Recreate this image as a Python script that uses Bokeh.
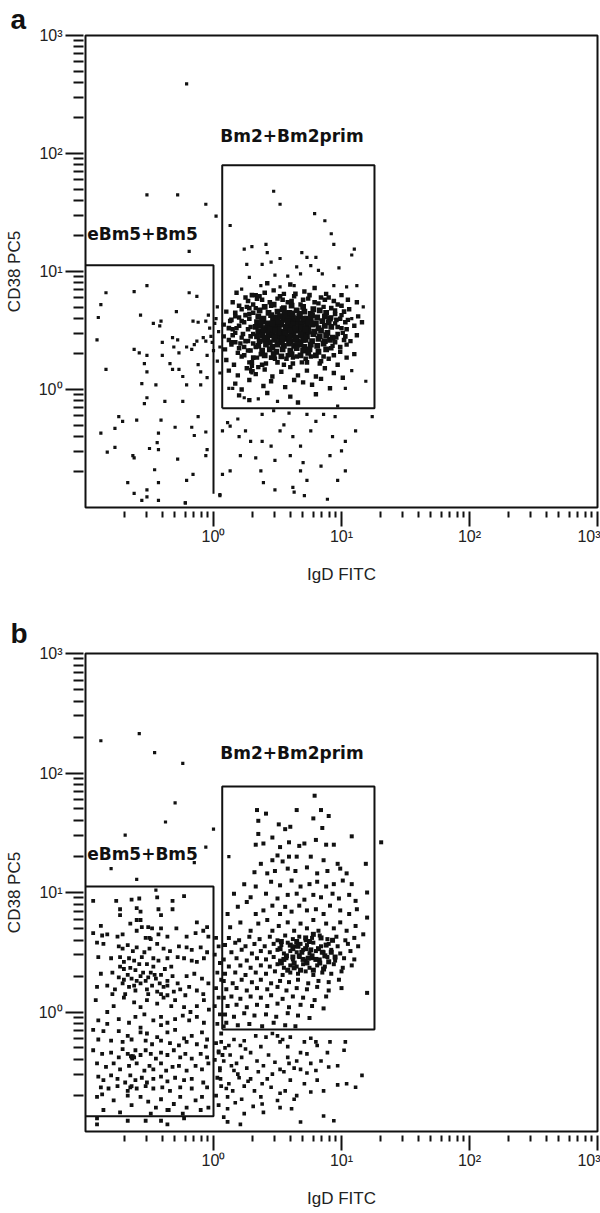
from bokeh.plotting import figure
from bokeh.models import Range1d, FixedTicker, Label, Title
from bokeh.layouts import column
from bokeh.embed import file_html
from bokeh.resources import INLINE

# ---------------- data (stored as log10 decades: (IgD, CD38)) ----------------
A_LEFT = [(-0.84,0.82),(-0.62,0.83),(-0.52,0.88),(-0.88,0.72),(-0.90,0.61),(-0.57,0.63),(-0.47,0.56),(-0.42,0.54),
 (-0.41,0.58),(-0.29,0.66),(-0.19,0.82),(-0.13,0.79),(-0.16,0.58),(-0.12,0.57),(-0.06,0.58),(-0.91,0.42),(-0.62,0.34),
 (-0.58,0.31),(-0.52,0.29),(-0.40,0.40),(-0.40,0.29),(-0.32,0.44),(-0.28,0.42),(-0.31,0.36),(-0.27,0.31),(-0.21,0.36),
 (-0.17,0.34),(-0.15,0.38),(-0.13,0.41),(-0.08,0.44),(-0.06,0.41),(-0.05,0.29),(-0.84,0.17),(-0.54,0.22),(-0.52,0.15),
 (-0.34,0.22),(-0.32,0.17),(-0.27,0.17),(-0.24,0.11),(-0.21,0.04),(-0.12,0.21),(-0.10,0.15),(-0.10,0.04),(-0.05,0.10),
 (-0.56,0.05),(-0.45,0.04),(-0.52,-0.07),(-0.54,-0.12),(-0.38,-0.10),(-0.24,-0.10),(-0.74,-0.23),(-0.71,-0.27),
 (-0.60,-0.26),(-0.41,-0.26),(-0.77,-0.33),(-0.88,-0.37),(-0.30,-0.32),(-0.17,-0.32),(-0.12,-0.23),(-0.15,-0.39),
 (-0.06,-0.36),(-0.43,-0.37),(-0.77,-0.49),(-0.83,-0.53),(-0.63,-0.56),(-0.62,-0.58),(-0.50,-0.50),(-0.44,-0.45),
 (-0.43,-0.51),(-0.05,-0.51),(-0.06,-0.56),(-0.28,-0.59),(-0.46,-0.68),(-0.16,-0.72),(-0.67,-0.79),(-0.43,-0.79),
 (-0.21,-0.77),(-0.52,-0.85),(-0.62,-0.88),(-0.52,-0.91),(-0.56,-0.94),(-0.43,-0.94),(-0.22,-0.96),(0.05,-0.89),
 (-0.19,1.17)]
A_BETWEEN = [(0.03,0.70),(0.02,0.60),(0.04,0.49),(0.05,0.36),(0.03,0.24),(0.05,0.14),(0.07,-0.35),(0.11,-0.28),
 (0.07,-0.72),(-0.03,0.52),(-0.02,0.45),(-0.04,0.63),(0.00,0.33),(-0.01,0.40),(0.01,0.56)]
A_UPPER = [(0.47,1.68),(0.52,1.57),(0.79,1.49),(0.87,1.43),(0.13,1.39),(0.92,1.32),(0.94,1.23),(0.24,1.19),(0.30,1.21),
 (1.10,1.19),(0.41,1.23),(0.69,1.16),(0.42,1.16),(0.73,1.12),(0.80,1.12),(0.52,1.11),(1.08,1.14),(-0.06,1.57),
 (0.02,1.47),(0.26,1.06),(0.38,1.06),(0.45,1.08),(0.65,1.04),(0.76,1.05),(0.82,1.01),(0.98,1.03),(0.28,0.95),
 (0.48,0.97),(0.58,0.96),(0.68,0.98),(0.85,0.98),(0.22,0.85),(0.37,0.88),(0.52,0.87),(0.63,0.88),(0.94,0.88),
 (1.04,0.87),(1.12,0.88),(1.17,0.70),(1.08,0.60)]
A_LOWER = [(1.19,0.07),(1.08,0.16),(1.03,0.01),(0.97,-0.14),(0.12,0.01),(0.15,0.01),(0.24,-0.07),(0.35,-0.08),
 (0.50,-0.10),(0.29,0.15),(0.30,0.14),(0.29,0.17),(0.31,0.16)]
A_BELOW = [(0.38,-0.21),(0.73,-0.21),(0.86,-0.21),(0.95,-0.23),(1.24,-0.23),(0.19,-0.25),(0.47,-0.18),(0.59,-0.20),
 (0.39,-0.79),(0.48,-0.85),(0.62,-0.83),(0.63,-0.87),(0.71,-0.90),(0.89,-0.93),(0.05,-0.90),(-0.22,-0.96),
 (0.73,-0.77),(0.97,-0.77),(0.13,-0.31),(0.25,-0.35),(0.38,-0.44),(0.52,-0.35),(0.68,-0.48),(0.80,-0.27),
 (0.91,-0.56),(1.03,-0.44),(1.11,-0.35),(0.21,-0.56),(0.48,-0.60),(0.68,-0.69),(0.84,-0.65),(1.03,-0.69),
 (0.37,-0.69),(0.60,-0.56),(0.13,-0.69),(0.29,-0.44),(0.76,-0.35),(0.55,-0.30),(0.93,-0.40),(0.33,-0.58),
 (0.70,-0.62),(1.00,-0.52),(0.45,-0.48),(0.20,-0.40),(0.62,-0.40)]
A_RING = [(0.18,0.82),(0.33,0.80),(0.47,0.84),(0.55,0.81),(0.71,0.83),(0.79,0.86),(0.88,0.81),(1.00,0.80),(0.60,0.89),
 (0.42,0.90),(0.15,0.74),(0.25,0.78),(0.31,0.72),(0.38,0.76),(0.45,0.71),(0.50,0.77),(0.58,0.74),(0.63,0.79),
 (0.68,0.72),(0.74,0.77),(0.82,0.73),(0.90,0.78),(0.97,0.72),(1.05,0.76),(1.12,0.74),(0.36,0.79),(0.86,0.70),
 (0.10,0.66),(0.17,0.62),(0.22,0.68),(0.28,0.64),(0.33,0.69),(0.95,0.67),(1.00,0.63),(1.06,0.68),(1.13,0.62),
 (0.20,0.61),(0.26,0.70),(0.92,0.61),(0.08,0.55),(0.13,0.58),(0.18,0.52),(0.24,0.57),(0.29,0.53),(0.95,0.56),
 (1.00,0.52),(1.05,0.59),(1.10,0.54),(1.16,0.57),(0.15,0.51),(0.99,0.60),(0.08,0.45),(0.12,0.42),(0.17,0.48),
 (0.22,0.44),(0.27,0.41),(0.31,0.47),(0.96,0.44),(1.01,0.48),(1.07,0.41),(1.12,0.46),(0.14,0.40),(0.09,0.34),
 (0.14,0.38),(0.19,0.31),(0.24,0.36),(0.29,0.33),(0.93,0.37),(0.99,0.32),(1.04,0.38),(1.10,0.30),(0.21,0.39),
 (0.10,0.25),(0.16,0.21),(0.22,0.28),(0.28,0.23),(0.34,0.27),(0.41,0.22),(0.48,0.26),(0.55,0.21),(0.62,0.27),
 (0.69,0.23),(0.76,0.28),(0.83,0.22),(0.90,0.26),(0.97,0.21),(1.04,0.27),(0.30,0.20),(0.58,0.29),(0.12,0.16),
 (0.19,0.12),(0.26,0.18),(0.33,0.13),(0.40,0.17),(0.46,0.11),(0.53,0.15),(0.60,0.19),(0.66,0.12),(0.73,0.16),
 (0.80,0.11),(0.87,0.18),(0.94,0.14),(1.01,0.10),(0.35,0.19),(0.17,0.05),(0.28,0.08),(0.39,0.03),(0.45,0.07),
 (0.56,0.02),(0.63,0.08),(0.77,0.04),(0.84,0.09),(0.91,0.01),(0.22,0.00),(0.70,0.06),(0.20,-0.05),(0.42,-0.03),
 (0.60,-0.06),(0.80,-0.04),(0.28,-0.09),(0.66,-0.11)]
A_HALO = [(0.30,0.80),(0.40,0.82),(0.52,0.79),(0.64,0.81),(0.75,0.80),(0.84,0.78),
 (0.27,0.75),(0.34,0.77),(0.44,0.74),(0.54,0.76),(0.61,0.75),(0.70,0.76),(0.79,0.74),(0.87,0.76),(0.94,0.75),
 (0.20,0.71),(0.28,0.69),(0.92,0.69),(1.00,0.71),(0.17,0.65),(0.25,0.63),(0.31,0.65),(0.95,0.64),(1.02,0.66),
 (0.14,0.59),(0.22,0.58),(0.28,0.60),(0.96,0.59),(1.03,0.57),(0.12,0.52),(0.20,0.54),(0.27,0.51),(0.97,0.53),
 (1.04,0.51),(0.15,0.46),(0.23,0.47),(0.29,0.45),(0.97,0.47),(1.03,0.45),(0.17,0.40),(0.25,0.41),(0.31,0.39),
 (0.95,0.40),(1.02,0.42),(0.20,0.35),(0.27,0.33),(0.33,0.36),(0.92,0.35),(0.99,0.36),
 (0.24,0.29),(0.31,0.27),(0.37,0.30),(0.45,0.27),(0.57,0.26),(0.65,0.28),(0.72,0.26),(0.86,0.28),(0.94,0.29),
 (0.30,0.23),(0.38,0.21),(0.50,0.23),(0.62,0.22),(0.73,0.23),(0.84,0.24)]
A_CORE = [(0.40,0.70),(0.47,0.72),(0.55,0.69),(0.61,0.71),(0.70,0.70),(0.78,0.68),
 (0.36,0.67),(0.43,0.65),(0.50,0.66),(0.54,0.68),(0.59,0.65),(0.65,0.67),(0.71,0.66),(0.76,0.64),(0.83,0.67),(0.88,0.65),
 (0.35,0.62),(0.39,0.60),(0.45,0.63),(0.49,0.61),(0.53,0.62),(0.58,0.63),(0.62,0.61),(0.67,0.62),(0.73,0.60),(0.77,0.63),
 (0.81,0.61),(0.87,0.62),(0.91,0.60),
 (0.34,0.57),(0.38,0.58),(0.42,0.56),(0.47,0.58),(0.51,0.57),(0.55,0.59),(0.60,0.57),(0.64,0.58),(0.68,0.56),(0.72,0.58),
 (0.76,0.59),(0.80,0.56),(0.85,0.58),(0.90,0.57),
 (0.33,0.53),(0.37,0.54),(0.41,0.52),(0.45,0.54),(0.49,0.53),(0.53,0.55),(0.57,0.53),(0.61,0.54),(0.65,0.52),(0.69,0.54),
 (0.73,0.53),(0.77,0.55),(0.82,0.52),(0.87,0.54),(0.92,0.53),
 (0.35,0.49),(0.39,0.50),(0.43,0.48),(0.47,0.50),(0.51,0.51),(0.55,0.49),(0.58,0.50),(0.62,0.48),(0.66,0.50),(0.70,0.49),
 (0.74,0.51),(0.79,0.49),(0.84,0.50),(0.89,0.48),
 (0.34,0.45),(0.38,0.46),(0.42,0.44),(0.46,0.46),(0.50,0.45),(0.54,0.47),(0.57,0.45),(0.61,0.46),(0.65,0.44),(0.69,0.46),
 (0.73,0.45),(0.78,0.47),(0.83,0.45),(0.88,0.46),(0.93,0.44),
 (0.36,0.41),(0.40,0.42),(0.44,0.40),(0.48,0.42),(0.52,0.41),(0.56,0.43),(0.60,0.41),(0.64,0.42),(0.68,0.40),(0.72,0.42),
 (0.77,0.41),(0.82,0.43),(0.87,0.41),(0.91,0.42),
 (0.35,0.37),(0.41,0.38),(0.46,0.36),(0.50,0.38),(0.55,0.37),(0.59,0.39),(0.63,0.37),(0.67,0.38),(0.71,0.36),(0.76,0.38),
 (0.81,0.37),(0.86,0.39),
 (0.38,0.33),(0.44,0.34),(0.49,0.32),(0.54,0.34),(0.60,0.33),(0.65,0.35),(0.70,0.33),(0.75,0.34),(0.82,0.32),(0.88,0.34),
 (0.40,0.29),(0.47,0.30),(0.53,0.28),(0.61,0.30),(0.68,0.29),(0.74,0.31),(0.80,0.29),
 (0.465,0.60),(0.525,0.56),(0.585,0.605),(0.645,0.565),(0.705,0.60),(0.445,0.52),(0.505,0.48),(0.565,0.52),(0.625,0.485),
 (0.685,0.525),(0.745,0.49),(0.475,0.44),(0.535,0.40),(0.595,0.445),(0.655,0.405),(0.715,0.44),(0.775,0.555),(0.555,0.64),
 (0.615,0.645),(0.675,0.64),(0.50,0.575),(0.56,0.475),(0.62,0.55),(0.68,0.47),(0.74,0.57),(0.48,0.50),(0.60,0.50),
 (0.66,0.60),(0.54,0.43),(0.70,0.42),(0.52,0.62),(0.64,0.43),(0.72,0.51),(0.46,0.56),(0.58,0.58),(0.64,0.52)]
A_OUTLIERS = [(-0.21,2.59),(-0.52,1.65),(-0.28,1.65)]

B_LEFT = [(-0.94,0.93),(-0.76,0.93),(-0.73,0.86),(-0.64,0.94),(-0.58,0.95),(-0.44,0.96),(-0.32,0.93),(-0.23,0.97),
 (-0.60,0.87),(-0.57,0.84),(-0.43,0.86),(-0.41,0.81),(-0.60,0.77),(-0.32,0.86),(-0.73,0.81),(-0.13,0.75),(-0.57,0.77),
 (-0.88,0.72),(-0.65,0.74),(-0.56,0.71),(-0.51,0.71),(-0.48,0.70),(-0.41,0.70),(-0.29,0.70),(-0.05,0.71),(-0.94,0.66),
 (-0.87,0.64),(-0.83,0.65),(-0.75,0.63),(-0.71,0.65),(-0.60,0.68),(-0.49,0.61),(-0.43,0.65),(-0.36,0.63),(-0.21,0.63),
 (-0.14,0.66),(-0.08,0.68),(-0.04,0.63),(-0.53,0.62),(-0.50,0.62),
 (-0.91,0.58),(-0.86,0.57),(-0.74,0.55),(-0.71,0.53),(-0.67,0.56),(-0.63,0.51),(-0.60,0.54),(-0.54,0.50),(-0.50,0.53),
 (-0.44,0.57),(-0.39,0.53),(-0.34,0.51),(-0.27,0.55),(-0.21,0.54),(-0.17,0.52),(-0.10,0.54),(-0.05,0.50),(-0.90,0.46),
 (-0.80,0.45),(-0.73,0.46),(-0.66,0.45),(-0.62,0.43),(-0.56,0.46),(-0.52,0.40),(-0.47,0.45),(-0.43,0.43),(-0.36,0.45),
 (-0.28,0.46),(-0.23,0.45),(-0.17,0.43),(-0.13,0.42),(-0.075,0.45),(-0.73,0.38),(-0.70,0.42),
 (-0.88,0.32),(-0.79,0.33),(-0.74,0.29),(-0.70,0.36),(-0.67,0.31),(-0.64,0.28),(-0.61,0.35),(-0.57,0.30),(-0.53,0.26),
 (-0.49,0.33),(-0.45,0.28),(-0.41,0.31),(-0.36,0.26),(-0.32,0.30),(-0.28,0.24),(-0.21,0.30),(-0.15,0.32),(-0.09,0.28),
 (-0.04,0.24),(-0.91,0.21),(-0.83,0.22),(-0.77,0.19),(-0.71,0.24),(-0.66,0.21),(-0.61,0.18),(-0.57,0.24),(-0.52,0.19),
 (-0.48,0.22),(-0.44,0.17),(-0.39,0.21),(-0.36,0.22),(-0.31,0.17),(-0.26,0.19),(-0.19,0.21),(-0.13,0.18),(-0.08,0.15),
 (-0.79,0.15),(-0.69,0.15),(-0.51,0.15),(-0.41,0.15),(-0.22,0.14),(-0.36,0.14),
 (-0.60,0.26),(-0.55,0.33),(-0.47,0.38),(-0.42,0.24),(-0.65,0.37),(-0.38,0.36),(-0.51,0.29),(-0.58,0.40),(-0.46,0.31),
 (-0.62,0.22),(-0.33,0.38),(-0.70,0.27),
 (-0.92,0.10),(-0.83,0.00),(-0.78,0.05),(-0.70,0.12),(-0.62,0.08),(-0.57,0.04),(-0.52,0.10),(-0.44,0.07),(-0.39,0.12),
 (-0.33,0.05),(-0.30,0.10),(-0.23,0.04),(-0.18,0.00),(-0.13,0.05),(-0.075,0.10),(-0.036,0.02),(-0.90,-0.07),(-0.83,-0.10),
 (-0.74,-0.06),(-0.66,-0.09),(-0.61,-0.04),(-0.54,-0.02),(-0.47,-0.07),(-0.41,-0.04),(-0.36,-0.09),(-0.30,-0.06),
 (-0.24,-0.03),(-0.19,-0.07),(-0.13,-0.04),(-0.075,-0.09),(-0.41,-0.11),(-0.57,-0.13),
 (-0.94,-0.15),(-0.86,-0.16),(-0.74,-0.16),(-0.67,-0.20),(-0.57,-0.17),(-0.52,-0.18),(-0.44,-0.21),(-0.36,-0.17),
 (-0.30,-0.15),(-0.23,-0.22),(-0.17,-0.20),(-0.09,-0.17),(-0.05,-0.23),(-0.90,-0.23),(-0.80,-0.24),(-0.71,-0.25),
 (-0.64,-0.23),(-0.53,-0.24),(-0.48,-0.27),(-0.41,-0.24),(-0.34,-0.26),(-0.27,-0.28),(-0.21,-0.25),(-0.13,-0.27),
 (-0.06,-0.29),
 (-0.94,-0.32),(-0.87,-0.35),(-0.80,-0.34),(-0.74,-0.38),(-0.71,-0.31),(-0.67,-0.35),(-0.64,-0.38),(-0.61,-0.32),
 (-0.57,-0.36),(-0.53,-0.32),(-0.49,-0.35),(-0.45,-0.39),(-0.41,-0.34),(-0.36,-0.36),(-0.31,-0.32),(-0.26,-0.38),
 (-0.22,-0.35),(-0.17,-0.39),(-0.10,-0.35),(-0.05,-0.38),
 (-0.91,-0.43),(-0.84,-0.46),(-0.78,-0.43),(-0.73,-0.48),(-0.66,-0.45),(-0.60,-0.43),(-0.54,-0.49),(-0.50,-0.45),
 (-0.47,-0.48),(-0.41,-0.43),(-0.37,-0.49),(-0.32,-0.46),(-0.27,-0.45),(-0.21,-0.49),(-0.14,-0.45),(-0.09,-0.48),
 (-0.04,-0.43),
 (-0.90,-0.54),(-0.86,-0.57),(-0.80,-0.53),(-0.75,-0.56),(-0.69,-0.59),(-0.65,-0.53),(-0.61,-0.57),(-0.56,-0.55),
 (-0.52,-0.59),(-0.47,-0.56),(-0.41,-0.54),(-0.36,-0.58),(-0.30,-0.55),(-0.23,-0.57),(-0.17,-0.56),(-0.08,-0.59),
 (-0.88,-0.63),(-0.82,-0.64),(-0.75,-0.62),(-0.67,-0.66),(-0.60,-0.64),(-0.53,-0.62),(-0.47,-0.64),(-0.40,-0.63),
 (-0.34,-0.66),(-0.26,-0.63),(-0.17,-0.64),(-0.05,-0.63),
 (-0.63,-0.37),(-0.635,-0.39),(-0.62,-0.38),(-0.65,-0.63),(-0.64,-0.62),(-0.645,-0.37),
 (-0.91,-0.71),(-0.87,-0.69),(-0.78,-0.74),(-0.67,-0.70),(-0.64,-0.78),(-0.57,-0.71),(-0.51,-0.75),(-0.45,-0.80),
 (-0.41,-0.73),(-0.35,-0.82),(-0.31,-0.77),(-0.26,-0.71),(-0.21,-0.80),(-0.14,-0.74),(-0.09,-0.71),(-0.04,-0.80),
 (-0.86,-0.82),(-0.73,-0.84),(-0.49,-0.85),(-0.36,-0.82),(-0.10,-0.82),(-0.24,-0.85),
 (-0.91,-0.89),(-0.91,-0.94),(-0.67,-0.91),(-0.53,-0.91),(-0.41,-0.91),(-0.36,-0.94),(-0.23,-0.89)]
B_BETWEEN = [(0.02,0.62),(0.04,0.55),(0.01,0.48),(0.05,0.41),(0.03,0.33),(0.06,0.27),(0.02,0.20),(0.04,0.12),
 (0.01,0.05),(0.05,-0.02),(0.03,-0.10),(0.06,-0.18),(0.02,-0.26),(0.04,-0.33),(0.01,-0.40),(0.05,-0.47),(0.03,-0.55),
 (0.06,-0.62),(0.02,-0.70),(0.04,-0.78),(0.07,-0.36),(0.08,-0.12),(0.11,-0.92)]
B_BELOW = [(0.16,-0.23),(0.24,-0.24),(0.33,-0.20),(0.41,-0.21),(0.46,-0.18),(0.50,-0.20),(0.54,-0.23),(0.52,-0.25),
 (0.60,-0.21),(0.71,-0.25),(0.76,-0.22),(0.80,-0.25),(0.81,-0.28),(0.91,-0.25),(1.03,-0.25),(0.12,-0.28),(0.21,-0.28),
 (0.37,-0.29),(0.58,-0.29),(0.68,-0.34),(0.89,-0.34),(1.02,-0.32),
 (0.04,-0.34),(0.08,-0.41),(0.13,-0.36),(0.18,-0.43),(0.22,-0.38),(0.29,-0.34),(0.34,-0.41),(0.39,-0.45),(0.43,-0.36),
 (0.48,-0.42),(0.52,-0.48),(0.58,-0.38),(0.59,-0.43),(0.65,-0.41),(0.68,-0.48),(0.73,-0.35),(0.76,-0.43),(0.80,-0.49),
 (0.84,-0.41),(0.90,-0.46),(0.97,-0.45),(0.05,-0.49),(0.16,-0.49),(0.26,-0.47),(0.35,-0.50),(0.46,-0.52),(0.55,-0.50),
 (0.63,-0.47),(0.73,-0.51),
 (0.055,-0.56),(0.12,-0.60),(0.15,-0.66),(0.20,-0.55),(0.24,-0.62),(0.29,-0.56),(0.32,-0.66),(0.38,-0.60),(0.42,-0.56),
 (0.45,-0.63),(0.52,-0.68),(0.56,-0.66),(0.60,-0.57),(0.65,-0.70),(0.71,-0.60),(0.76,-0.67),(0.81,-0.57),(0.86,-0.66),
 (0.97,-0.61),(1.04,-0.60),(1.11,-0.63),(1.16,-0.53),(0.11,-0.71),(0.22,-0.73),(0.37,-0.71),(0.50,-0.74),(0.63,-0.73),
 (0.11,-0.81),(0.24,-0.85),(0.39,-0.84),(0.52,-0.80),(0.61,-0.81),(0.68,-0.92),(0.86,-0.87),(0.94,-0.91),(0.21,-0.94),
 (0.38,-0.77),(0.06,-0.25),(0.09,-0.30),(0.14,-0.45),(0.19,-0.52),(0.10,-0.64),(0.17,-0.76),(0.27,-0.58),(0.31,-0.79),
 (0.08,-0.88),(0.25,-0.31)]
B_CLUSTER = [(0.79,1.81),(0.34,1.69),(0.41,1.66),(0.65,1.69),(0.84,1.69),(0.90,1.64),(0.35,1.60),(0.51,1.57),(0.60,1.55),
 (0.56,1.53),(0.78,1.62),(0.85,1.54),(0.35,1.49),(0.46,1.46),(0.80,1.44),(1.08,1.47),(1.31,1.42),(0.33,1.40),(0.39,1.41),
 (0.52,1.38),(0.59,1.42),(0.67,1.39),(0.71,1.41),(0.88,1.40),(0.94,1.40),(0.50,1.31),(0.59,1.30),(0.65,1.30),(0.76,1.30),
 (0.86,1.27),(0.97,1.24),(1.19,1.24),(0.37,1.24),(0.46,1.27),(0.54,1.26),
 (0.32,1.17),(0.42,1.16),(0.48,1.18),(0.58,1.20),(0.64,1.18),(0.73,1.21),(0.81,1.16),(0.89,1.18),(0.99,1.20),(1.04,1.16),
 (0.24,1.07),(0.33,1.05),(0.45,1.09),(0.52,1.06),(0.61,1.10),(0.68,1.05),(0.75,1.07),(0.81,1.09),(0.88,1.05),(0.94,1.07),
 (1.01,1.10),(1.08,1.07),(1.20,1.00),(0.16,0.99),(0.29,0.96),(0.41,0.99),(0.50,0.95),(0.58,0.98),(0.65,0.99),(0.71,0.94),
 (0.78,0.98),(0.84,0.96),(0.93,0.99),(0.98,0.95),(1.06,0.98),(1.11,0.93),
 (0.11,0.82),(0.19,0.88),(0.26,0.92),(0.33,0.82),(0.39,0.85),(0.46,0.89),(0.52,0.82),(0.56,0.88),(0.61,0.84),(0.67,0.89),
 (0.73,0.85),(0.80,0.86),(0.86,0.82),(0.91,0.89),(0.99,0.85),(1.06,0.82),(1.12,0.86),(1.20,0.79),(0.13,0.71),(0.21,0.75),
 (0.29,0.68),(0.35,0.74),(0.42,0.77),(0.46,0.68),(0.51,0.72),(0.58,0.75),(0.63,0.68),(0.68,0.74),(0.73,0.70),(0.78,0.77),
 (0.82,0.68),(0.88,0.74),(0.94,0.70),(0.99,0.75),(1.04,0.68),(1.11,0.72),(1.17,0.65),
 (0.12,0.62),(0.20,0.60),(0.28,0.63),(0.36,0.61),(0.44,0.63),(0.50,0.60),(0.56,0.64),(0.62,0.61),(0.67,0.63),(0.72,0.60),
 (0.77,0.62),(0.83,0.64),(0.89,0.61),(0.96,0.63),(1.03,0.60),(1.10,0.62),
 (0.09,0.56),(0.17,0.58),(0.25,0.55),(0.32,0.57),(0.40,0.55),(0.47,0.57),(0.53,0.56),(0.58,0.58),(0.63,0.55),(0.68,0.57),
 (0.73,0.56),(0.78,0.58),(0.84,0.55),(0.90,0.57),(0.97,0.55),(1.05,0.57),(1.13,0.55),
 (0.14,0.50),(0.22,0.52),(0.30,0.49),(0.37,0.51),(0.44,0.50),(0.50,0.52),(0.55,0.49),(0.60,0.51),(0.65,0.50),(0.70,0.52),
 (0.75,0.49),(0.80,0.51),(0.86,0.50),(0.92,0.52),(0.99,0.49),(1.07,0.51),
 (0.08,0.44),(0.18,0.45),(0.26,0.43),(0.34,0.45),(0.41,0.44),(0.47,0.46),(0.52,0.43),(0.57,0.45),(0.62,0.44),(0.67,0.46),
 (0.72,0.43),(0.77,0.45),(0.83,0.44),(0.89,0.46),(0.95,0.43),(1.02,0.45),(1.10,0.44),
 (0.12,0.38),(0.21,0.39),(0.29,0.37),(0.37,0.39),(0.44,0.38),(0.50,0.40),(0.55,0.37),(0.60,0.39),(0.65,0.38),(0.70,0.40),
 (0.75,0.37),(0.81,0.39),(0.87,0.38),(0.94,0.40),(1.01,0.37),(1.08,0.39),
 (0.09,0.32),(0.17,0.33),(0.25,0.31),(0.33,0.33),(0.41,0.32),(0.48,0.34),(0.54,0.31),(0.60,0.33),(0.66,0.32),(0.72,0.34),
 (0.78,0.31),(0.85,0.33),(0.92,0.32),(1.00,0.34),
 (0.08,0.26),(0.15,0.24),(0.22,0.27),(0.30,0.25),(0.37,0.27),(0.45,0.24),(0.52,0.26),(0.59,0.25),(0.66,0.27),(0.74,0.24),
 (0.82,0.26),(0.90,0.25),(0.98,0.27),(0.10,0.19),(0.18,0.20),(0.26,0.18),(0.34,0.20),(0.42,0.19),(0.50,0.21),(0.57,0.18),
 (0.65,0.20),(0.73,0.19),(0.81,0.21),(0.90,0.18),(1.00,0.20),(0.08,0.12),(0.14,0.13),(0.21,0.11),(0.29,0.13),(0.37,0.12),
 (0.45,0.14),(0.54,0.11),(0.62,0.13),(0.70,0.12),(0.79,0.10),(0.88,0.13),(0.11,0.05),(0.18,0.06),(0.26,0.04),(0.34,0.06),
 (0.42,0.05),(0.50,0.07),(0.59,0.04),(0.68,0.06),(0.77,0.05),(0.86,0.03),(0.09,-0.02),(0.16,-0.04),(0.24,-0.01),
 (0.32,-0.03),(0.41,-0.02),(0.49,-0.04),(0.58,-0.01),(0.66,-0.03),(0.75,-0.05),(0.10,-0.09),(0.19,-0.11),(0.28,-0.10),
 (0.38,-0.12),(0.47,-0.09),(0.56,-0.11),(0.64,-0.12),(1.20,0.16)]
B_CORE = [(0.53,0.59),(0.65,0.59),(0.75,0.59),(0.52,0.53),(0.62,0.53),(0.72,0.53),(0.82,0.53),(0.57,0.47),(0.67,0.47),
 (0.77,0.47),(0.87,0.47),(0.53,0.41),(0.63,0.41),(0.73,0.41),(0.83,0.41),(0.58,0.35),(0.68,0.35),(0.78,0.35),(0.60,0.56),
 (0.70,0.44),(0.80,0.44),(0.55,0.44),(0.69,0.50),(0.63,0.37),
 (0.88,0.56),(0.92,0.50),(0.90,0.42),(0.86,0.36),(0.93,0.60),(0.95,0.46),(0.84,0.62),(0.78,0.65),(0.72,0.62),
 (0.85,0.50),(0.76,0.52),(0.66,0.55),(0.74,0.45),(0.62,0.46)]
B_OUTLIERS = [(-0.88,2.27),(-0.58,2.33),(-0.46,2.17),(-0.24,2.08),(-0.375,1.59),(-0.69,1.48),(0.0,1.53),(-0.06,1.38),
 (-0.60,1.11),(-0.30,1.75),(-0.15,1.25),(-0.80,1.20),(-0.45,1.02),(0.12,1.30)]

# gates (data units) and label anchors
A_BM5_GATE_X, A_BM5_GATE_Y = [0.1, 1.0, 1.0], [11.3, 11.3, 0.131]
A_BM2_GATE_X, A_BM2_GATE_Y = [1.17, 18.1, 18.1, 1.17, 1.17], [0.695, 0.695, 79.4, 79.4, 0.695]
B_BM5_GATE_X, B_BM5_GATE_Y = [0.1, 1.0, 1.0, 0.1], [11.2, 11.2, 0.134, 0.134]
B_BM2_GATE_X, B_BM2_GATE_Y = [1.17, 18.1, 18.1, 1.17, 1.17], [0.715, 0.715, 77.0, 77.0, 0.715]
GATE_NAMES = ["eBm5+Bm5", "Bm2+Bm2prim"]
A_LABEL_POS = [(0.103, 20.7), (1.13, 142.0)]
B_LABEL_POS = [(0.103, 21.0), (1.13, 147.0)]

MAJOR_TICKS = [1, 10, 100, 1000]
TICK_LABELS = {1: "10\u2070", 10: "10\u00b9", 100: "10\u00b2", 1000: "10\u00b3"}
MINOR_TICKS = [m * 10.0 ** k for k in (-1, 0, 1, 2) for m in range(2, 10)]

INK = "#111111"


def to_xy(group):
    return [10 ** p[0] for p in group], [10 ** p[1] for p in group]


def panel(letter, letter_standoff, groups, bm5, bm2, label_pos, top, frame_h, bottom):
    p = figure(width=600, height=top + frame_h + bottom,
               x_axis_type="log", y_axis_type="log",
               x_range=Range1d(0.1, 1000), y_range=Range1d(0.1, 1000),
               output_backend="svg", toolbar_location=None,
               min_border_left=85, min_border_right=3,
               min_border_top=top, min_border_bottom=bottom,
               x_axis_label="IgD FITC", y_axis_label="CD38 PC5")
    p.grid.visible = False
    p.outline_line_color = INK
    p.outline_line_width = 2
    p.outline_line_alpha = 1
    p.background_fill_color = "white"
    p.border_fill_color = "white"

    p.add_layout(Title(text=letter, align="left", offset=-75, standoff=letter_standoff,
                       text_font="Liberation Sans", text_font_style="bold", text_font_size="28px",
                       text_color=INK, vertical_align="bottom"), "above")

    for ax in (p.xaxis[0], p.yaxis[0]):
        ax.ticker = FixedTicker(ticks=MAJOR_TICKS, minor_ticks=MINOR_TICKS)
        ax.major_label_overrides = TICK_LABELS
        ax.axis_line_color = None
        ax.major_tick_line_color = INK
        ax.minor_tick_line_color = INK
        ax.major_tick_line_width = 2
        ax.minor_tick_line_width = 2
        ax.major_label_text_font = "Liberation Sans"
        ax.major_label_text_font_size = "16px"
        ax.major_label_text_color = "#222222"
        ax.axis_label_text_font = "Liberation Sans"
        ax.axis_label_text_font_size = "17px"
        ax.axis_label_text_font_style = "normal"
        ax.axis_label_text_color = "#222222"
    xa, ya = p.xaxis[0], p.yaxis[0]
    xa.major_tick_in, xa.major_tick_out = -4, 19
    xa.minor_tick_in, xa.minor_tick_out = -4, 10
    xa.major_label_standoff = 1
    xa.axis_label_standoff = 17
    ya.major_tick_in, ya.major_tick_out = -2, 20
    ya.minor_tick_in, ya.minor_tick_out = -2, 12
    ya.major_label_standoff = 3
    ya.axis_label_standoff = 12

    for group, size in groups:
        xs, ys = to_xy(group)
        p.scatter(xs, ys, marker="square", size=size, color=INK, line_color=None)

    p.line(bm5[0], bm5[1], line_color=INK, line_width=2)
    p.line(bm2[0], bm2[1], line_color=INK, line_width=2)

    for name, (lx, ly) in zip(GATE_NAMES, label_pos):
        p.add_layout(Label(x=lx, y=ly, text=name, text_font="DejaVu Sans", text_font_style="bold",
                           text_font_size="17px", text_color=INK, text_baseline="middle",
                           text_align="left"))
    return p


p1 = panel("a", 2,
           [(A_LEFT, 3.2), (A_BETWEEN, 3.2), (A_UPPER, 3.2), (A_LOWER, 3.2), (A_BELOW, 3.2), (A_OUTLIERS, 3.2),
            (A_RING, 4.4), (A_HALO, 4.6), (A_CORE, 5.8)],
           (A_BM5_GATE_X, A_BM5_GATE_Y), (A_BM2_GATE_X, A_BM2_GATE_Y), A_LABEL_POS,
           top=32, frame_h=475, bottom=93)
p2 = panel("b", 10,
           [(B_LEFT, 3.8), (B_BETWEEN, 3.8), (B_BELOW, 3.6), (B_OUTLIERS, 3.2), (B_CLUSTER, 4.0), (B_CORE, 5.0)],
           (B_BM5_GATE_X, B_BM5_GATE_Y), (B_BM2_GATE_X, B_BM2_GATE_Y), B_LABEL_POS,
           top=53, frame_h=478, bottom=81)

layout = column(p1, p2, spacing=0)
open("out.html", "w").write(file_html(layout, INLINE))
